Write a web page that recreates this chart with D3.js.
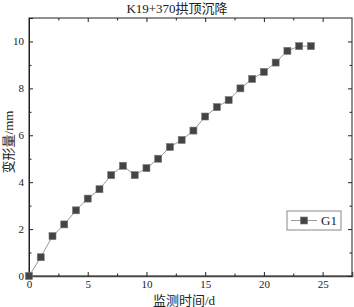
<!DOCTYPE html>
<html>
<head>
<meta charset="utf-8">
<script src="https://cdn.jsdelivr.net/npm/d3@7/dist/d3.min.js"></script>
<style>
  body { margin: 0; background: #fff; }
  text { font-family: "Liberation Serif", "Times New Roman", "Noto Sans CJK SC", serif; fill: #222; }
</style>
</head>
<body>
<div id="chart"></div>
<script>
// 监测数据
const days = [0, 1, 2, 3, 4, 5, 6, 7, 8, 9, 10, 11, 12, 13, 14, 15, 16, 17, 18, 19, 20, 21, 22, 23, 24];
const g1 = [0, 0.8, 1.7, 2.2, 2.8, 3.3, 3.7, 4.3, 4.7, 4.3, 4.6, 5.0, 5.5, 5.8, 6.2, 6.8, 7.2, 7.5, 8.0, 8.4, 8.7, 9.1, 9.6, 9.8, 9.8];
const xTicks = [0, 5, 10, 15, 20, 25];
const yTicks = [0, 2, 4, 6, 8, 10];
const seriesName = 'G1';

const W = 354, H = 307;
const margin = { top: 18, right: 2, bottom: 31, left: 29 };
const width = W - margin.left - margin.right;
const height = H - margin.top - margin.bottom;

const svg = d3.select('#chart').append('svg')
  .attr('width', W).attr('height', H);

const g = svg.append('g').attr('transform', `translate(${margin.left},${margin.top})`);

const x = d3.scaleLinear().domain([0, 27.5]).range([0, width]);
const y = d3.scaleLinear().domain([0, 11]).range([height, 0]);

// 边框
g.append('rect')
  .attr('width', width).attr('height', height)
  .attr('fill', 'none').attr('stroke', '#222').attr('stroke-width', 1);

// 坐标轴（刻度朝内）
function styleAxis(sel) {
  sel.select('.domain').attr('stroke', '#222');
  sel.selectAll('.tick line').attr('stroke', '#222');
  sel.selectAll('text').style('font-size', '11px')
    .style('font-family', '"Liberation Serif", "Times New Roman", serif').attr('fill', '#222');
}
function plainTicks(s) {
  s.select('.domain').remove();
  s.selectAll('line').attr('stroke', '#222');
}
const xMinor = d3.range(2.5, 27.5, 5);
const yMinor = d3.range(1, 11, 2);

const xAxis = g.append('g').attr('transform', `translate(0,${height})`)
  .call(d3.axisBottom(x).tickValues(xTicks).tickSize(-4).tickPadding(4).tickFormat(d3.format('d')));
styleAxis(xAxis);
xAxis.select('.domain').attr('stroke-width', 1.6).attr('stroke', '#444');
g.append('g').attr('transform', `translate(0,${height})`)
  .call(d3.axisBottom(x).tickValues(xMinor).tickSize(-2.5).tickFormat(''))
  .call(plainTicks);

const yAxis = g.append('g')
  .call(d3.axisLeft(y).tickValues(yTicks).tickSize(-4).tickPadding(5).tickFormat(d3.format('d')));
styleAxis(yAxis);
g.append('g')
  .call(d3.axisLeft(y).tickValues(yMinor).tickSize(-2.5).tickFormat(''))
  .call(plainTicks);

// 上、右镜像刻度
g.append('g')
  .call(d3.axisTop(x).tickValues(xTicks).tickSize(-4).tickFormat(''))
  .call(plainTicks);
g.append('g')
  .call(d3.axisTop(x).tickValues(xMinor).tickSize(-2.5).tickFormat(''))
  .call(plainTicks);
g.append('g').attr('transform', `translate(${width},0)`)
  .call(d3.axisRight(y).tickValues(yTicks).tickSize(-4).tickFormat(''))
  .call(plainTicks);
g.append('g').attr('transform', `translate(${width},0)`)
  .call(d3.axisRight(y).tickValues(yMinor).tickSize(-2.5).tickFormat(''))
  .call(plainTicks);

// 折线
const data = days.map((d, i) => ({ day: d, v: g1[i] }));
g.append('path')
  .datum(data)
  .attr('fill', 'none')
  .attr('stroke', '#999')
  .attr('stroke-width', 1)
  .attr('d', d3.line().x(d => x(d.day)).y(d => y(d.v)));

// 方形标记
const s = 7;
g.selectAll('.pt')
  .data(data)
  .enter().append('rect')
  .attr('class', 'pt')
  .attr('x', d => x(d.day) - s / 2)
  .attr('y', d => y(d.v) - s / 2)
  .attr('width', s).attr('height', s)
  .attr('fill', '#444')
  .attr('stroke', '#777')
  .attr('stroke-width', 0.6);

// 标题
svg.append('text')
  .attr('x', 177).attr('y', 13)
  .attr('text-anchor', 'middle')
  .style('font-size', '13px')
  .text('K19+370拱顶沉降');

// 轴标题
svg.append('text')
  .attr('x', 184).attr('y', 305)
  .attr('text-anchor', 'middle')
  .style('font-size', '13px')
  .text('监测时间/d');

svg.append('text')
  .attr('transform', `translate(13,${margin.top + height / 2 - 5}) rotate(-90)`)
  .attr('text-anchor', 'middle')
  .style('font-size', '13px')
  .text('变形量/mm');

// 图例
const lg = svg.append('g').attr('transform', 'translate(287,211)');
lg.append('rect')
  .attr('width', 54).attr('height', 19)
  .attr('fill', '#fff').attr('stroke', '#888').attr('stroke-width', 1);
lg.append('line')
  .attr('x1', 4).attr('x2', 30).attr('y1', 9.5).attr('y2', 9.5)
  .attr('stroke', '#999');
lg.append('rect')
  .attr('x', 17 - 3.5).attr('y', 9.5 - 3.5).attr('width', 7).attr('height', 7)
  .attr('fill', '#444').attr('stroke', '#777').attr('stroke-width', 0.6);
lg.append('text')
  .attr('x', 34).attr('y', 14)
  .style('font-size', '13px')
  .text(seriesName);
</script>
</body>
</html>
